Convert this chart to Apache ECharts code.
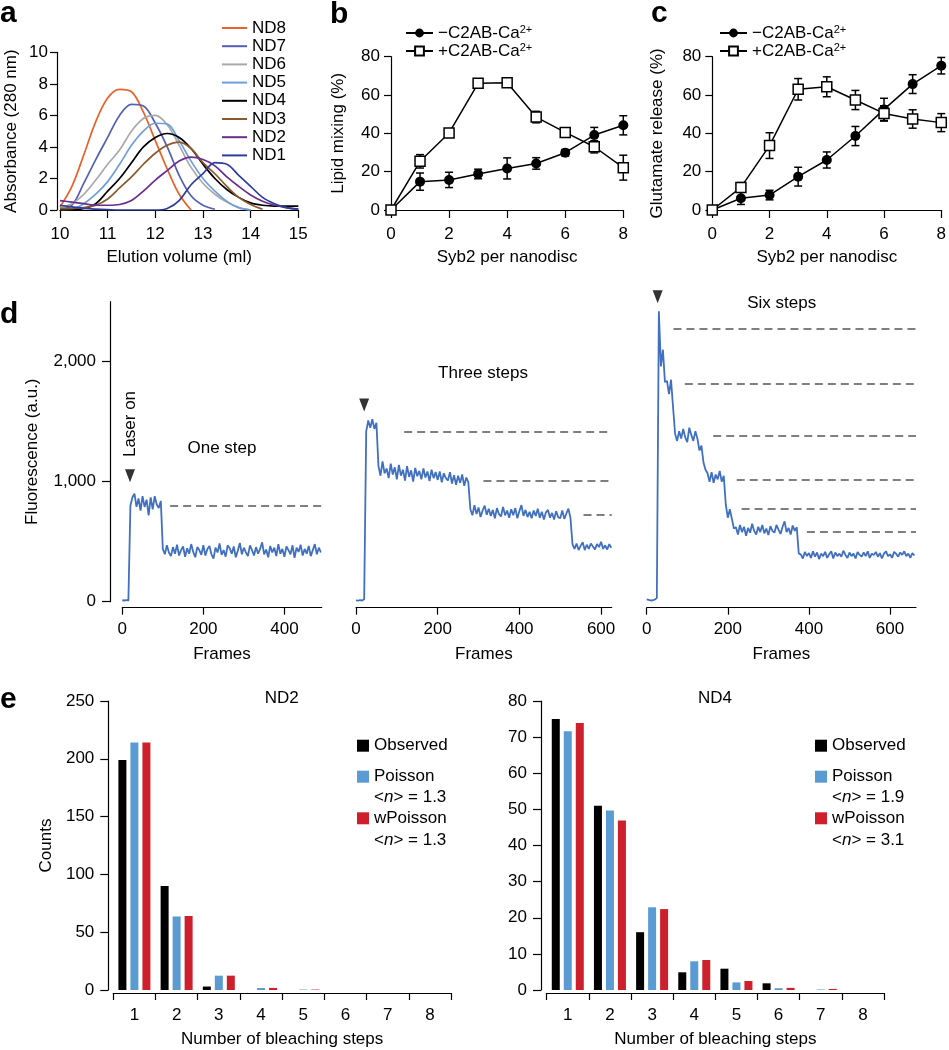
<!DOCTYPE html>
<html><head><meta charset="utf-8">
<script src="https://cdn.jsdelivr.net/npm/echarts@6/dist/echarts.min.js"></script>
<style>html,body{margin:0;padding:0;background:#fff}#c{width:949px;height:1050px}</style>
</head><body><div id="c"></div>
<script>
// ---------- Panel a: elution profiles ----------
const aX = [10,10.25,10.5,10.75,11,11.25,11.5,11.75,12,12.25,12.5,12.75,13,13.25,13.5,13.75,14,14.25,14.5,14.75,15];
const ndNames = ['ND8','ND7','ND6','ND5','ND4','ND3','ND2','ND1'];
const ND8 = [0.2,1.5,3.5,5.6,7.1,7.65,7.5,6.2,4.4,2.6,1.0,0.0,null,null,null,null,null,null,null,null,null];
const ND7 = [0.05,0.3,1.7,3.2,4.6,6.0,6.7,6.6,5.5,4.0,2.2,0.9,0.3,0.05,null,null,null,null,null,null,null];
const ND6 = [0.15,0.4,1.0,1.9,2.9,3.8,5.0,5.8,6.0,5.4,4.1,2.7,1.7,1.0,0.5,0.15,0,null,null,null,null];
const ND5 = [0,0.05,0.4,1.0,1.8,2.9,4.1,5.0,5.5,5.45,4.4,3.1,2.0,1.2,0.55,0.15,0,null,null,null,null];
const ND4 = [0,0,0.1,0.4,1.2,2.0,3.0,4.0,4.6,4.85,4.6,3.9,2.9,2.0,1.3,0.8,0.45,0.3,0.25,0.25,0.25];
const ND3 = [0.1,0.1,0.15,0.3,0.7,1.4,2.1,2.9,3.6,4.1,4.3,3.9,3.0,2.3,1.5,0.8,0.35,0.05,null,null,null];
const ND2 = [0.6,0.5,0.4,0.3,0.3,0.35,0.6,1.2,1.9,2.5,3.1,3.35,3.2,2.8,2.1,1.5,0.95,0.55,0.3,0.15,0.05];
const ND1 = [0.3,0.2,0.1,0.05,0.02,0,0,0,0,0.1,0.6,1.6,2.3,3.0,2.9,2.2,1.5,0.8,0.4,0.15,0.05];
const ndColors = ['#E8622A','#5560B3','#A9A9A9','#6F9FDB','#000000','#8B5A2B','#6A2D8F','#2E3C9A'];

// ---------- Panels b, c ----------
const sybPerND = [0,1,2,3,4,5,6,7,8];
const legendNames = ['\u2212C2AB-Ca2+','+C2AB-Ca2+'];
const bMinus = [0,14.8,15.7,18.8,21.7,24.3,29.9,39.1,44.2];
const bMinusErr = [0,4.5,4,2.5,5.5,3,1.7,4,5];
const bPlus = [0,25.4,40.2,66.1,66.4,48.5,40.5,33,22.1];
const bPlusErr = [0,3.5,1,1,2,3,2,3.2,6.5];
const cMinus = [0,6.1,7.8,17.4,26.1,38.6,52.5,65.7,75.3];
const cMinusErr = [0,3.2,2.5,4.9,4.2,5,5.8,4.9,4.3];
const cPlus = [0,11.8,33.6,63,64.3,57.4,50.4,47.5,45.6];
const cPlusErr = [0,2.5,6.7,5.6,5.2,5,4,4.8,4.7];

// ---------- Panel d: bleaching traces (one value every 5 frames) ----------
const frameStep = 5;
const traceOne = [12,10,14,8,
  800,870,900,790,860,760,880,790,850,720,870,770,880,810,780,840,
  440,395,470,410,380,455,400,475,385,430,
  460,375,445,400,480,415,370,455,430,390,
  470,385,440,465,395,360,450,410,485,390,
  430,375,470,445,400,460,370,425,490,395,
  450,410,380,470,430,385,455,400,440,495,
  395,435,370,465,410,450,380,480,400,440,
  375,460,430,395,470,365,450,415,475,385,
  440,400,465,380,430,480,395,450,410];
const traceThree = [12,8,14,10,20,
  1420,1510,1450,1520,1440,1490,
  1130,1050,1170,1070,1110,1030,1150,1060,1120,1020,
  1140,1050,1100,1010,1130,1040,1095,1000,1115,1045,
  1090,1020,1110,1035,1085,1005,1100,1030,1080,1015,
  1085,995,1070,1030,1010,1080,985,1055,975,1050,
  990,1060,965,1035,995,
  770,720,805,730,785,705,760,800,725,775,
  715,765,695,780,730,710,790,720,760,700,
  770,720,780,695,755,805,715,765,705,750,
  695,760,715,775,700,750,685,745,765,700,
  740,685,755,705,695,760,690,735,775,700,
  480,440,485,430,465,495,430,475,440,485,460,435,480,455,500,440,470,435,480,450];
const traceSix = [20,15,10,12,18,30,
  2420,1960,2100,1830,1840,1730,1850,1620,
  1400,
  1340,1420,1360,1440,1370,1330,1450,1390,1340,1420,1360,
  1260,1300,1160,1100,
  1070,1000,1080,990,1060,1020,1090,1000,1050,
  810,700,770,690,
  610,
  620,560,640,580,625,550,615,575,650,590,
  560,625,580,640,570,610,555,630,590,575,
  640,600,565,625,670,580,615,560,635,590,620,
  400,
  395,360,415,380,405,365,420,375,410,355,
  400,380,415,365,395,420,360,410,380,400,
  375,425,390,365,410,380,400,360,415,390,
  375,410,380,420,365,400,390,415,375,405,
  360,400,420,380,395,365,415,400,375,410,
  390,420,380,400,365,405,385];
const dEndFrames = [492,626,664];
const dFrameTicks = [0,200,400,600];
const dFluorTicks = [0,1000,2000];
const dashStartsOne = [118];       const dashLevelsOne = [800];
const dashStartsThree = [118,312,557]; const dashLevelsThree = [1417,1008,722];
const dashStartsSix = [66,94,164,222,234,395]; const dashLevelsSix = [2278,1820,1383,1014,778,581];
const laserArrows = [[19,1050],[20,1640],[27,2542]];
const dTitles = ['One step','Three steps','Six steps'];

// ---------- Panel e: step histograms ----------
const steps = ['1','2','3','4','5','6','7','8'];
const nd2Observed = [199,90,3,0,0,0,0,0];
const nd2Poisson  = [214,63.6,12.4,1.7,0.4,0,0,0];
const nd2wPoisson = [214,64,12.4,1.8,0.4,0,0,0];
const nd4Observed = [75,51,16,4.9,5.9,1.85,0,0];
const nd4Poisson  = [71.6,49.7,22.9,7.95,2.1,0.5,0.15,0];
const nd4wPoisson = [73.9,46.9,22.4,8.3,2.5,0.6,0.3,0];
const eLegendNames = ['Observed','Poisson','wPoisson'];
const eMeanND2 = ['1.3','1.3'];
const eMeanND4 = ['1.9','3.1'];

// ---------- chart ----------
const FONT = '"Liberation Sans", Arial, Helvetica, sans-serif';
const BLUE = '#4070BF', EBLUE = '#5B9BD3', ERED = '#CE202C';
function merge(a,b){for(const k in b){if(b[k]&&typeof b[k]==='object'&&!Array.isArray(b[k])&&a[k]&&typeof a[k]==='object'&&!Array.isArray(a[k]))merge(a[k],b[k]);else a[k]=b[k];}return a;}
function ax(o){
  return merge({
    axisLine:{show:true,onZero:false,lineStyle:{color:'#000',width:1.2}},
    axisTick:{show:true,inside:false,length:7,lineStyle:{color:'#000',width:1.2}},
    axisLabel:{color:'#000',fontSize:17,fontFamily:FONT,margin:5},
    splitLine:{show:false},
    nameLocation:'middle',
    nameTextStyle:{color:'#000',fontSize:17,fontFamily:FONT}
  }, o);
}
const grids = [
  {left:60, top:52.3, width:238.3, height:157.7},
  {left:391, top:56.7, width:232.3, height:153.3},
  {left:712.3, top:56.7, width:231, height:153.3},
  {left:122.3, top:301.7, width:199.4, height:300},
  {left:356, top:301.7, width:255.7, height:300},
  {left:646.7, top:301.7, width:269.3, height:300},
  {left:113.3, top:701, width:337.7, height:289},
  {left:546.7, top:701, width:337.3, height:289}
];
const comma = v => String(v).replace(/\B(?=(\d{3})+(?!\d))/g, ',');
const dX = (k,i) => ax({type:'value',gridIndex:k,min:0,max:dEndFrames[i],offset:6,name:'Frames',nameGap:38,
  axisTick:{length:7,customValues:dFrameTicks.filter(v=>v<=dEndFrames[i])},
  axisLabel:{margin:13,customValues:dFrameTicks.filter(v=>v<=dEndFrames[i])}});
const xAxis = [
  ax({type:'value',gridIndex:0,min:10,max:15,interval:1,name:'Elution volume (ml)',nameGap:39,axisTick:{length:8},axisLabel:{margin:16}}),
  ax({type:'value',gridIndex:1,min:0,max:8,interval:2,name:'Syb2 per nanodisc',nameGap:39,axisTick:{length:8},axisLabel:{margin:16}}),
  ax({type:'value',gridIndex:2,min:0,max:8,interval:2,name:'Syb2 per nanodisc',nameGap:39,axisTick:{length:8},axisLabel:{margin:16}}),
  dX(3,0), dX(4,1), dX(5,2),
  ax({type:'category',gridIndex:6,data:steps,offset:3,name:'Number of bleaching steps',nameGap:38,axisTick:{length:7,alignWithLabel:false},axisLabel:{margin:14}}),
  ax({type:'category',gridIndex:7,data:steps,offset:3,name:'Number of bleaching steps',nameGap:38,axisTick:{length:7,alignWithLabel:false},axisLabel:{margin:14}})
];
const yAxis = [
  ax({type:'value',gridIndex:0,min:0,max:10,interval:2,offset:3,name:'Absorbance (280 nm)',nameGap:37,axisLabel:{margin:9}}),
  ax({type:'value',gridIndex:1,min:0,max:80,interval:20,name:'Lipid mixing (%)',nameGap:44,axisLabel:{margin:11}}),
  ax({type:'value',gridIndex:2,min:0,max:80,interval:20,name:'Glutamate release (%)',nameGap:46,axisLabel:{margin:11}}),
  ax({type:'value',gridIndex:3,min:0,max:2500,offset:12.3,name:'Fluorescence (a.u.)',nameGap:69,
     axisTick:{length:8,customValues:dFluorTicks},axisLabel:{margin:14,formatter:comma,customValues:dFluorTicks}}),
  {type:'value',gridIndex:4,min:0,max:2500,show:false,splitLine:{show:false}},
  {type:'value',gridIndex:5,min:0,max:2500,show:false,splitLine:{show:false}},
  ax({type:'value',gridIndex:6,min:0,max:250,interval:50,offset:5,name:'Counts',nameGap:53,axisTick:{length:8},axisLabel:{margin:14}}),
  ax({type:'value',gridIndex:7,min:0,max:80,interval:10,offset:5.7,axisTick:{length:8},axisLabel:{margin:14}})
];

const series = [];
// a
[ND8,ND7,ND6,ND5,ND4,ND3,ND2,ND1].forEach((arr,i)=>{
  series.push({type:'line',name:ndNames[i],xAxisIndex:0,yAxisIndex:0,symbol:'none',smooth:0.35,
    lineStyle:{color:ndColors[i],width:1.7},itemStyle:{color:ndColors[i]},
    data:aX.map((x,j)=>[x,arr[j]]).filter(p=>p[1]!=null)});
});
// b, c
function errRender(params, api){
  const x=api.value(0), lo=api.value(1), hi=api.value(2);
  const p1=api.coord([x,lo]), p2=api.coord([x,hi]); const w=4;
  const st={stroke:'#000',lineWidth:1.5};
  return {type:'group',children:[
    {type:'line',shape:{x1:p1[0],y1:p1[1],x2:p2[0],y2:p2[1]},style:st},
    {type:'line',shape:{x1:p1[0]-w,y1:p1[1],x2:p1[0]+w,y2:p1[1]},style:st},
    {type:'line',shape:{x1:p2[0]-w,y1:p2[1],x2:p2[0]+w,y2:p2[1]},style:st}]};
}
[[bMinus,bMinusErr,bPlus,bPlusErr,1],[cMinus,cMinusErr,cPlus,cPlusErr,2]].forEach(([mi,me,pl,pe,k])=>{
  [[mi,me],[pl,pe]].forEach(([v,e])=>{
    series.push({type:'custom',xAxisIndex:k,yAxisIndex:k,z:1,renderItem:errRender,encode:{x:0,y:[1,2]},
      data:sybPerND.map((x,j)=>[x,v[j]-e[j],v[j]+e[j]])});
  });
  series.push({type:'line',name:legendNames[0],xAxisIndex:k,yAxisIndex:k,z:3,symbol:'circle',symbolSize:10,
    lineStyle:{color:'#000',width:1.5},itemStyle:{color:'#000'},data:sybPerND.map((x,j)=>[x,mi[j]])});
  series.push({type:'line',name:legendNames[1],xAxisIndex:k,yAxisIndex:k,z:4,symbol:'rect',symbolSize:10,
    lineStyle:{color:'#000',width:1.5},itemStyle:{color:'#fff',borderColor:'#000',borderWidth:1.5},data:sybPerND.map((x,j)=>[x,pl[j]])});
});
// d
[[traceOne,dashStartsOne,dashLevelsOne],[traceThree,dashStartsThree,dashLevelsThree],[traceSix,dashStartsSix,dashLevelsSix]].forEach(([tr,st,lv],i)=>{
  const k=3+i;
  series.push({type:'line',xAxisIndex:k,yAxisIndex:k,symbol:'none',lineStyle:{color:BLUE,width:1.8},
    data:tr.map((v,j)=>[j*frameStep,v]),
    markLine:{silent:true,symbol:'none',animation:false,label:{show:false},
      lineStyle:{type:[8,5],color:'#7F7F7F',width:2.2},
      data:lv.map((l,j)=>[{coord:[st[j],l]},{coord:[dEndFrames[i],l]}])}});
  series.push({type:'scatter',xAxisIndex:k,yAxisIndex:k,clip:false,z:5,symbol:'triangle',symbolRotate:180,
    symbolSize:[10,13],itemStyle:{color:'#000'},data:[laserArrows[i]]});
});
// e
[[nd2Observed,nd2Poisson,nd2wPoisson,6],[nd4Observed,nd4Poisson,nd4wPoisson,7]].forEach(([o,p,w,k])=>{
  [[o,'#000'],[p,EBLUE],[w,ERED]].forEach(([arr,col],j)=>{
    series.push({type:'bar',name:eLegendNames[j],xAxisIndex:k,yAxisIndex:k,barWidth:8,barGap:'50%',
      itemStyle:{color:col},data:arr});
  });
});

const T = (x,y,text,extra)=>merge({type:'text',x:x,y:y,style:{text:text,fill:'#000',font:'17px '+FONT,textAlign:'center',textVerticalAlign:'middle'}},extra||{});
const graphic = [
  T(0,14,'a',{style:{font:'bold 30px '+FONT,textAlign:'left'}}),
  T(330,14.6,'b',{style:{font:'bold 30px '+FONT,textAlign:'left'}}),
  T(651,14,'c',{style:{font:'bold 30px '+FONT,textAlign:'left'}}),
  T(0,314.6,'d',{style:{font:'bold 30px '+FONT,textAlign:'left'}}),
  T(0,699.6,'e',{style:{font:'bold 30px '+FONT,textAlign:'left'}}),
  T(130,424,'Laser on',{rotation:Math.PI/2}),
  T(222,448,dTitles[0]), T(483,373,dTitles[1]), T(781.7,303.3,dTitles[2]),
  T(281.7,698,'ND2'), T(715,698,'ND4')
];
function eLegend(sx, means){
  const rows=[745.7,776.7,818.3], cols=['#000',EBLUE,ERED];
  rows.forEach((y,i)=>{
    graphic.push({type:'rect',shape:{x:sx,y:y-6,width:12,height:12},style:{fill:cols[i]}});
    graphic.push(T(sx+17,y,eLegendNames[i],{style:{textAlign:'left'}}));
  });
  [797.7,840].forEach((y,i)=>{
    graphic.push({type:'text',x:sx+17,y:y,style:{text:'{a|<}{i|n}{a|> = '+means[i]+'}',textAlign:'left',textVerticalAlign:'middle',
      rich:{a:{fontSize:17,fontFamily:FONT,fill:'#000'},i:{fontSize:17,fontFamily:FONT,fontStyle:'italic',fill:'#000'}}}});
  });
}
eLegend(357, eMeanND2);
eLegend(815, eMeanND4);

const legText = {color:'#000',fontSize:17,fontFamily:FONT,lineHeight:18,rich:{s:{fontSize:11,fontFamily:FONT,verticalAlign:'top',lineHeight:18,color:'#000'}}};
const supFmt = n => n.replace('Ca2+','Ca{s|2+}');
const option = {
  animation:false,
  backgroundColor:'#fff',
  grid:grids, xAxis:xAxis, yAxis:yAxis, series:series, graphic:graphic,
  legend:[
    {data:ndNames,orient:'vertical',left:222,top:19,icon:'rect',itemWidth:25,itemHeight:2,itemGap:0.2,selectedMode:false,
     textStyle:{color:'#000',fontSize:17,fontFamily:FONT,lineHeight:18},padding:0},
    {data:legendNames,orient:'vertical',left:405,top:24,itemWidth:27,itemHeight:11,itemGap:0,selectedMode:false,
     formatter:supFmt,textStyle:legText,padding:0},
    {data:legendNames,orient:'vertical',left:719,top:24,itemWidth:27,itemHeight:11,itemGap:0,selectedMode:false,
     formatter:supFmt,textStyle:legText,padding:0}
  ]
};
const chart = echarts.init(document.getElementById('c'),null,{renderer:'canvas'});
chart.setOption(option);
</script></body></html>
